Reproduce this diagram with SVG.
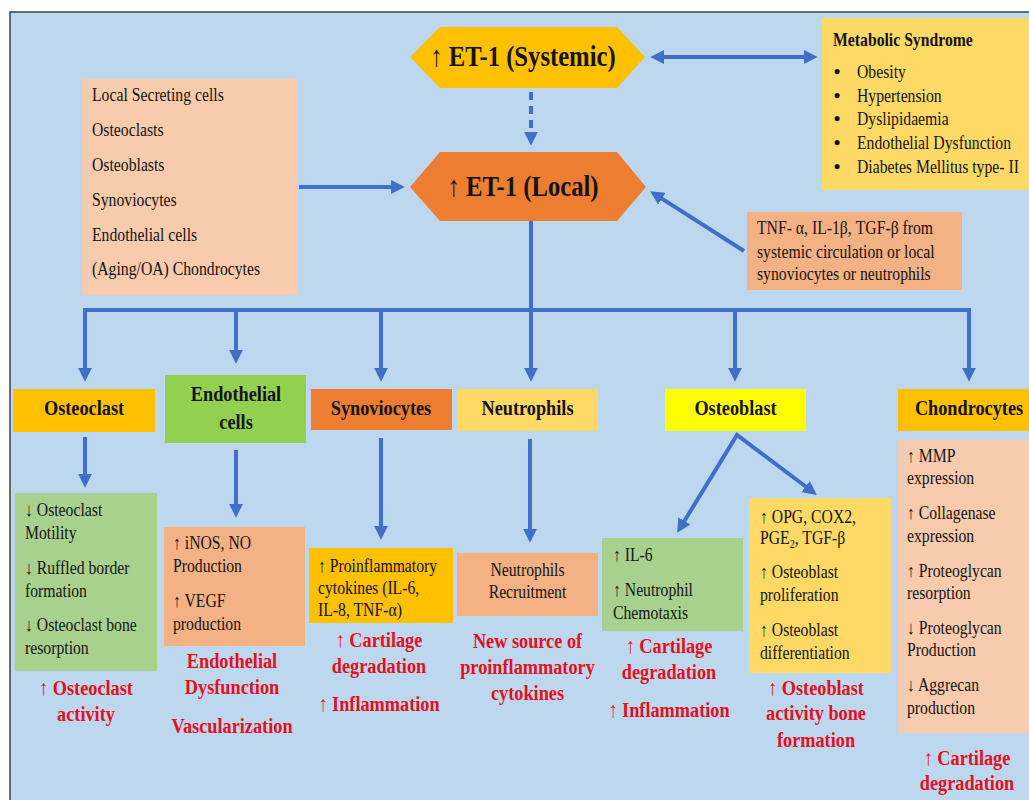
<svg xmlns="http://www.w3.org/2000/svg" width="1029" height="800" viewBox="0 0 1029 800">
<style>
text{font-family:"Liberation Serif","Times New Roman",serif;fill:#141414}
.t{font-size:18.5px}
.bt{font-size:18.5px;font-weight:bold}
.h{font-size:21.5px;font-weight:bold}
.r{font-size:21.5px;font-weight:bold;fill:#E3101E}
.big{font-size:29px;font-weight:bold}
.c{text-anchor:middle}
.bul{font-size:19px;font-weight:bold;text-anchor:middle}
</style>
<defs>
<marker id="ah" viewBox="0 0 10 10" refX="3" refY="5" markerWidth="3.5" markerHeight="3.5" orient="auto-start-reverse">
<path d="M0,0 L10,5 L0,10 z" fill="#3F6FC8"/>
</marker>
</defs>
<rect x="0" y="0" width="1029" height="800" fill="#ffffff"/>
<rect x="10" y="12" width="1030" height="800" fill="#BDD7EE" stroke="#404040" stroke-width="1.5"/>

<g id="connectors" fill="none" stroke="#3F6FC8" stroke-width="4">
<line x1="531" y1="92" x2="531" y2="136" stroke-dasharray="8 6" marker-end="url(#ah)"/>
<line x1="660" y1="57" x2="808" y2="57" marker-start="url(#ah)" marker-end="url(#ah)"/>
<line x1="299" y1="187" x2="395" y2="187" marker-end="url(#ah)"/>
<line x1="744" y1="251" x2="658.4" y2="196.4" marker-end="url(#ah)"/>
<line x1="531" y1="221" x2="531" y2="310"/>
<line x1="83" y1="310" x2="971" y2="310"/>
<line x1="85" y1="308" x2="85" y2="372" marker-end="url(#ah)"/>
<line x1="236" y1="310" x2="236" y2="354" marker-end="url(#ah)"/>
<line x1="381" y1="310" x2="381" y2="372" marker-end="url(#ah)"/>
<line x1="531" y1="310" x2="531" y2="372" marker-end="url(#ah)"/>
<line x1="735" y1="310" x2="735" y2="372" marker-end="url(#ah)"/>
<line x1="969" y1="308" x2="969" y2="372" marker-end="url(#ah)"/>
<line x1="85" y1="437" x2="85" y2="478" marker-end="url(#ah)"/>
<line x1="236" y1="450" x2="236" y2="508" marker-end="url(#ah)"/>
<line x1="381" y1="438" x2="381" y2="530" marker-end="url(#ah)"/>
<line x1="530" y1="439" x2="530" y2="533" marker-end="url(#ah)"/>
<path d="M682.2,524.5 L737,435 L809,489" marker-start="url(#ah)" marker-end="url(#ah)"/>
</g>

<g id="et1-systemic">
<polygon points="410,57 440,27 617,27 645,57 617,88 440,88" fill="#FFC000"/>
<g transform="translate(523 0) scale(0.85 1)"><text class="big c" x="0" y="66">↑ ET-1 (Systemic)</text></g>
</g>

<g id="et1-local">
<polygon points="410,187 440,152 617,152 646,187 617,221 440,221" fill="#ED7D31"/>
<g transform="translate(523 0) scale(0.85 1)"><text class="big c" x="0" y="196">↑ ET-1 (Local)</text></g>
</g>

<g id="local-secreting">
<rect x="82" y="79" width="215" height="216" fill="#F8CBAD"/>
<g transform="translate(92 0) scale(0.85 1)">
<text class="t" x="0" y="101">Local Secreting cells</text>
<text class="t" x="0" y="136">Osteoclasts</text>
<text class="t" x="0" y="171">Osteoblasts</text>
<text class="t" x="0" y="206">Synoviocytes</text>
<text class="t" x="0" y="241">Endothelial cells</text>
<text class="t" x="0" y="275">(Aging/OA) Chondrocytes</text>
</g>
</g>

<g id="metabolic">
<rect x="822" y="18" width="210" height="172" fill="#FFD966"/>
<g transform="translate(833 0) scale(0.85 1)"><text class="bt" x="0" y="46">Metabolic Syndrome</text></g>
<g transform="translate(837 0)">
<text class="bul" x="0" y="78">•</text>
<text class="bul" x="0" y="102">•</text>
<text class="bul" x="0" y="125">•</text>
<text class="bul" x="0" y="149">•</text>
<text class="bul" x="0" y="173">•</text>
</g>
<g transform="translate(857 0) scale(0.85 1)">
<text class="t" x="0" y="78">Obesity</text>
<text class="t" x="0" y="102">Hypertension</text>
<text class="t" x="0" y="125">Dyslipidaemia</text>
<text class="t" x="0" y="149">Endothelial Dysfunction</text>
<text class="t" x="0" y="173">Diabetes Mellitus type- II</text>
</g>
</g>

<g id="cytokines-src">
<rect x="747" y="212" width="215" height="78" fill="#F4B183"/>
<g transform="translate(757 0) scale(0.85 1)">
<text class="t" x="0" y="234">TNF- α, IL-1β, TGF-β from</text>
<text class="t" x="0" y="258">systemic circulation or local</text>
<text class="t" x="0" y="280">synoviocytes or neutrophils</text>
</g>
</g>

<g id="osteoclast">
<rect x="13" y="389" width="142" height="43" fill="#FFC000"/>
<g transform="translate(84 0) scale(0.85 1)"><text class="h c" x="0" y="415">Osteoclast</text></g>
</g>
<g id="osteoclast-effects">
<rect x="15" y="493" width="142" height="178" fill="#A9D18E"/>
<g transform="translate(25 0) scale(0.85 1)">
<text class="t" x="0" y="516">↓ Osteoclast</text>
<text class="t" x="0" y="539">Motility</text>
<text class="t" x="0" y="574">↓ Ruffled border</text>
<text class="t" x="0" y="597">formation</text>
<text class="t" x="0" y="631">↓ Osteoclast bone</text>
<text class="t" x="0" y="654">resorption</text>
</g>
<g transform="translate(86 0) scale(0.85 1)">
<text class="r c" x="0" y="695">↑ Osteoclast</text>
<text class="r c" x="0" y="721">activity</text>
</g>
</g>

<g id="endothelial">
<rect x="165" y="375" width="141" height="68" fill="#92D050"/>
<g transform="translate(236 0) scale(0.85 1)">
<text class="h c" x="0" y="401">Endothelial</text>
<text class="h c" x="0" y="429">cells</text>
</g>
</g>
<g id="endothelial-effects">
<rect x="164" y="527" width="141" height="119" fill="#F4B183"/>
<g transform="translate(173 0) scale(0.85 1)">
<text class="t" x="0" y="549">↑ iNOS, NO</text>
<text class="t" x="0" y="572">Production</text>
<text class="t" x="0" y="607">↑ VEGF</text>
<text class="t" x="0" y="630">production</text>
</g>
<g transform="translate(232 0) scale(0.85 1)">
<text class="r c" x="0" y="668">Endothelial</text>
<text class="r c" x="0" y="694">Dysfunction</text>
<text class="r c" x="0" y="733">Vascularization</text>
</g>
</g>

<g id="synoviocytes">
<rect x="311" y="389" width="141" height="41" fill="#ED7D31"/>
<g transform="translate(381 0) scale(0.85 1)"><text class="h c" x="0" y="415">Synoviocytes</text></g>
</g>
<g id="synoviocytes-effects">
<rect x="309" y="548" width="144" height="75" fill="#FFC000"/>
<g transform="translate(318 0) scale(0.85 1)">
<text class="t" x="0" y="572">↑ Proinflammatory</text>
<text class="t" x="0" y="594">cytokines (IL-6,</text>
<text class="t" x="0" y="616">IL-8, TNF-α)</text>
</g>
<g transform="translate(379 0) scale(0.85 1)">
<text class="r c" x="0" y="647">↑ Cartilage</text>
<text class="r c" x="0" y="673">degradation</text>
<text class="r c" x="0" y="711">↑ Inflammation</text>
</g>
</g>

<g id="neutrophils">
<rect x="457" y="389" width="141" height="42" fill="#FFD966"/>
<g transform="translate(527.5 0) scale(0.85 1)"><text class="h c" x="0" y="415">Neutrophils</text></g>
</g>
<g id="neutrophils-effects">
<rect x="457" y="553" width="141" height="63" fill="#F4B183"/>
<g transform="translate(527.5 0) scale(0.85 1)">
<text class="t c" x="0" y="576">Neutrophils</text>
<text class="t c" x="0" y="598">Recruitment</text>
<text class="r c" x="0" y="648">New source of</text>
<text class="r c" x="0" y="674">proinflammatory</text>
<text class="r c" x="0" y="700">cytokines</text>
</g>
</g>

<g id="osteoblast">
<rect x="665" y="389" width="141" height="42" fill="#FFFF00"/>
<g transform="translate(735.5 0) scale(0.85 1)"><text class="h c" x="0" y="415">Osteoblast</text></g>
</g>
<g id="osteoblast-il6">
<rect x="602" y="538" width="141" height="93" fill="#A9D18E"/>
<g transform="translate(613 0) scale(0.85 1)">
<text class="t" x="0" y="561">↑ IL-6</text>
<text class="t" x="0" y="596">↑ Neutrophil</text>
<text class="t" x="0" y="619">Chemotaxis</text>
</g>
<g transform="translate(669 0) scale(0.85 1)">
<text class="r c" x="0" y="653">↑ Cartilage</text>
<text class="r c" x="0" y="679">degradation</text>
<text class="r c" x="0" y="717">↑ Inflammation</text>
</g>
</g>
<g id="osteoblast-opg">
<rect x="749" y="498" width="142" height="175" fill="#FFD966"/>
<g transform="translate(760 0) scale(0.85 1)">
<text class="t" x="0" y="523">↑ OPG, COX2,</text>
<text class="t" x="0" y="544">PGE<tspan font-size="12" dy="4">2</tspan><tspan dy="-4">, TGF-β</tspan></text>
<text class="t" x="0" y="578">↑ Osteoblast</text>
<text class="t" x="0" y="601">proliferation</text>
<text class="t" x="0" y="636">↑ Osteoblast</text>
<text class="t" x="0" y="659">differentiation</text>
</g>
<g transform="translate(816 0) scale(0.85 1)">
<text class="r c" x="0" y="695">↑ Osteoblast</text>
<text class="r c" x="0" y="720">activity bone</text>
<text class="r c" x="0" y="747">formation</text>
</g>
</g>

<g id="chondrocytes">
<rect x="898" y="389" width="135" height="42" fill="#FFC000"/>
<g transform="translate(969 0) scale(0.85 1)"><text class="h c" x="0" y="415">Chondrocytes</text></g>
</g>
<g id="chondrocytes-effects">
<rect x="898" y="440" width="135" height="293" fill="#F8CBAD"/>
<g transform="translate(907 0) scale(0.85 1)">
<text class="t" x="0" y="462">↑ MMP</text>
<text class="t" x="0" y="484">expression</text>
<text class="t" x="0" y="519">↑ Collagenase</text>
<text class="t" x="0" y="542">expression</text>
<text class="t" x="0" y="577">↑ Proteoglycan</text>
<text class="t" x="0" y="599">resorption</text>
<text class="t" x="0" y="634">↓ Proteoglycan</text>
<text class="t" x="0" y="656">Production</text>
<text class="t" x="0" y="691">↓ Aggrecan</text>
<text class="t" x="0" y="714">production</text>
</g>
<g transform="translate(967 0) scale(0.85 1)">
<text class="r c" x="0" y="765">↑ Cartilage</text>
<text class="r c" x="0" y="790">degradation</text>
</g>
</g>
</svg>
